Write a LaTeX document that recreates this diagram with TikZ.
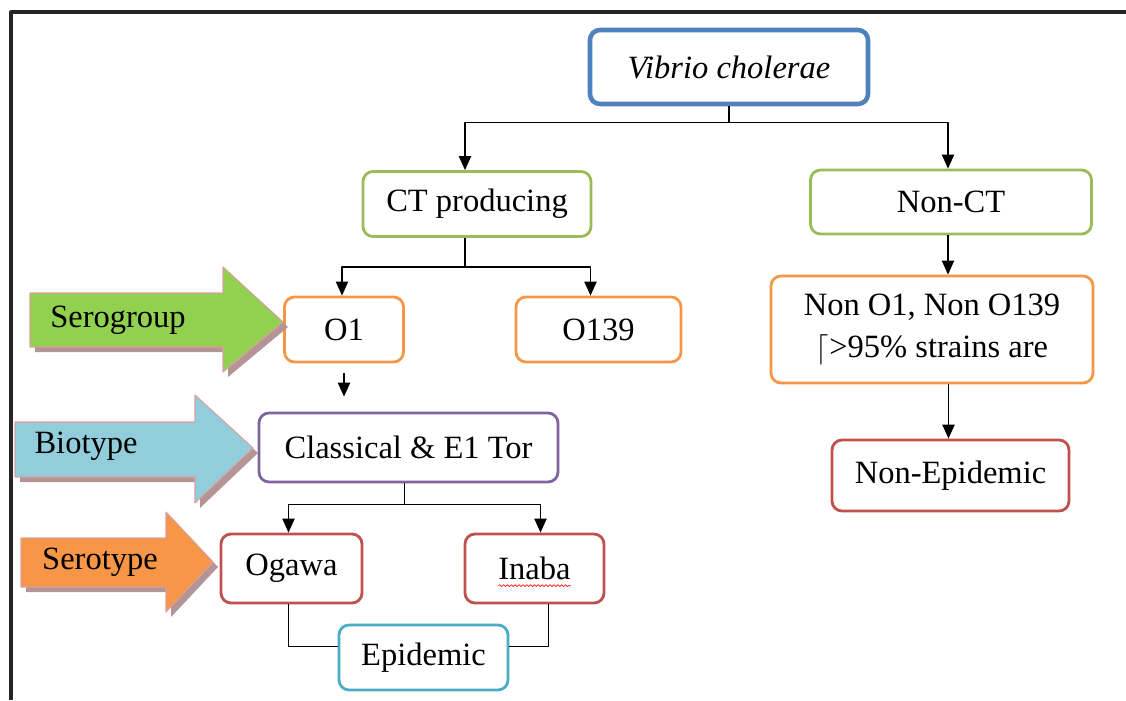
\documentclass[tikz,border=0pt]{standalone}
\usepackage{fontspec}
\setmainfont{Liberation Serif}
\usetikzlibrary{arrows.meta,decorations.pathmorphing}

\definecolor{vbblue}{HTML}{4F81BD}
\definecolor{ctgreen}{HTML}{9BBB59}
\definecolor{sgorange}{HTML}{F79646}
\definecolor{btpurple}{HTML}{8064A2}
\definecolor{stred}{HTML}{C0504D}
\definecolor{epteal}{HTML}{4BACC6}
\definecolor{sggreen}{HTML}{92D050}
\definecolor{btblue}{HTML}{92CDDC}
\definecolor{tagshadow}{HTML}{B49494}
\definecolor{tagedge}{HTML}{D9A0A0}

\begin{document}
\begin{tikzpicture}[line join=round,
  box/.style={draw,rounded corners=0.2cm,line width=1.6pt,fill=white,
    align=center,inner sep=0pt,font=\fontsize{18.5}{24}\selectfont},
  arr/.style={-{Triangle[length=8pt,width=7pt]},line width=0.8pt},
  link/.style={line width=0.8pt},
  tag/.style={draw=tagedge,line width=0.6pt},
  tagtext/.style={font=\fontsize{18.5}{24}\selectfont}]
  \useasboundingbox (0,0) rectangle (22.52,-14);

  % outer frame, cut by the page
  \draw[line width=1.8pt,black!85] (0.22,-14) -- (0.22,-0.24) -- (22.52,-0.24);

  % boxes
  \node[box,draw=vbblue,line width=2.6pt,minimum width=5.56cm,minimum height=1.48cm]
    (vib) at (14.58,-1.34) {\textit{Vibrio cholerae}};
  \node[box,draw=ctgreen,minimum width=4.56cm,minimum height=1.30cm]
    (ct) at (9.54,-4.08) {CT producing};
  \node[box,draw=ctgreen,minimum width=5.62cm,minimum height=1.28cm]
    (nct) at (19.02,-4.04) {Non-CT};
  \node[box,draw=sgorange,minimum width=2.38cm,minimum height=1.30cm]
    (o1) at (6.88,-6.59) {O1};
  \node[box,draw=sgorange,minimum width=3.30cm,minimum height=1.30cm]
    (o139) at (11.97,-6.59) {O139};
  \node[box,draw=sgorange,minimum width=6.44cm,minimum height=2.14cm]
    (no1) at (18.64,-6.59) {Non O1, Non O139\\$\lceil$>95\% strains are};
  \node[box,draw=btpurple,minimum width=5.98cm,minimum height=1.38cm]
    (cls) at (8.17,-8.95) {Classical \& E1 Tor};
  \node[box,draw=stred,minimum width=4.74cm,minimum height=1.42cm]
    (nepi) at (19.01,-9.51) {Non-Epidemic};
  \node[box,draw=stred,minimum width=2.82cm,minimum height=1.38cm]
    (ogw) at (5.83,-11.37) {Ogawa};
  \node[box,draw=stred,minimum width=2.78cm,minimum height=1.38cm]
    (inb) at (10.69,-11.37) {Inaba};
  \node[box,draw=epteal,minimum width=3.38cm,minimum height=1.30cm]
    (epi) at (8.47,-13.15) {Epidemic};

  % spelling mark under Inaba
  \draw[red!80,line width=0.5pt,decorate,decoration={snake,amplitude=0.5pt,segment length=2.2pt}]
    ([xshift=-0.72cm,yshift=-0.12cm]inb.base) -- ([xshift=0.72cm,yshift=-0.12cm]inb.base);

  % connectors
  \draw[arr] (vib.south) -- ++(0,-0.32) -| ([xshift=-0.24cm]ct.north);
  \draw[arr] (vib.south) -- ++(0,-0.32) -| ([xshift=-0.06cm]nct.north);
  \draw[arr] ([xshift=-0.24cm]ct.south) -- ++(0,-0.58) -| ([xshift=-0.04cm]o1.north);
  \draw[arr] ([xshift=-0.24cm]ct.south) -- ++(0,-0.58) -| ([xshift=-0.16cm]o139.north);
  \draw[arr] ([xshift=-0.06cm]nct.south) -- ([xshift=-0.06cm]nct.south |- no1.north);
  \draw[arr] ([xshift=-0.04cm]nepi.north |- no1.south) -- ([xshift=-0.04cm]nepi.north);
  \draw[arr] ([yshift=-0.2cm]o1.south) -- ([yshift=0.3cm]o1.south |- cls.north);
  \draw[arr] ([xshift=-0.08cm]cls.south) -- ++(0,-0.42) -| ([xshift=-0.06cm]ogw.north);
  \draw[arr] ([xshift=-0.08cm]cls.south) -- ++(0,-0.42) -| ([xshift=0.12cm]inb.north);
  \draw[link] ([xshift=-0.06cm]ogw.south) |- ([yshift=0.22cm]epi.west);
  \draw[link] ([xshift=0.28cm]inb.south) |- ([yshift=0.22cm]epi.east);

  % side tags
  \fill[tagshadow] (0.70,-5.96) -- (4.56,-5.96) -- (4.56,-5.44) -- (5.76,-6.54)
    -- (4.56,-7.54) -- (4.56,-7.04) -- (0.70,-7.04) -- cycle;
  \filldraw[tag,fill=sggreen] (0.60,-5.86) -- (4.46,-5.86) -- (4.46,-5.34)
    -- (5.66,-6.44) -- (4.46,-7.44) -- (4.46,-6.94) -- (0.60,-6.94) -- cycle;
  \node[tagtext] (sgl) at (2.36,-6.40) {Serogroup};

  \fill[tagshadow] (0.40,-8.54) -- (4.00,-8.54) -- (4.00,-8.00) -- (5.16,-9.06)
    -- (4.00,-10.16) -- (4.00,-9.64) -- (0.40,-9.64) -- cycle;
  \filldraw[tag,fill=btblue] (0.30,-8.44) -- (3.90,-8.44)
    -- (3.90,-7.90) -- (5.06,-8.96) -- (3.90,-10.06) -- (3.90,-9.54) -- (0.30,-9.54) -- cycle;
  \node[tagtext] (btl) at (1.72,-8.92) {Biotype};

  \fill[tagshadow] (0.52,-10.86) -- (3.42,-10.86) -- (3.42,-10.34) -- (4.36,-11.34)
    -- (3.42,-12.34) -- (3.42,-11.84) -- (0.52,-11.84) -- cycle;
  \filldraw[tag,fill=sgorange] (0.42,-10.76) -- (3.32,-10.76) -- (3.32,-10.24)
    -- (4.26,-11.24) -- (3.32,-12.24) -- (3.32,-11.74) -- (0.42,-11.74) -- cycle;
  \node[tagtext] (stl) at (2.00,-11.24) {Serotype};
\end{tikzpicture}
\end{document}
